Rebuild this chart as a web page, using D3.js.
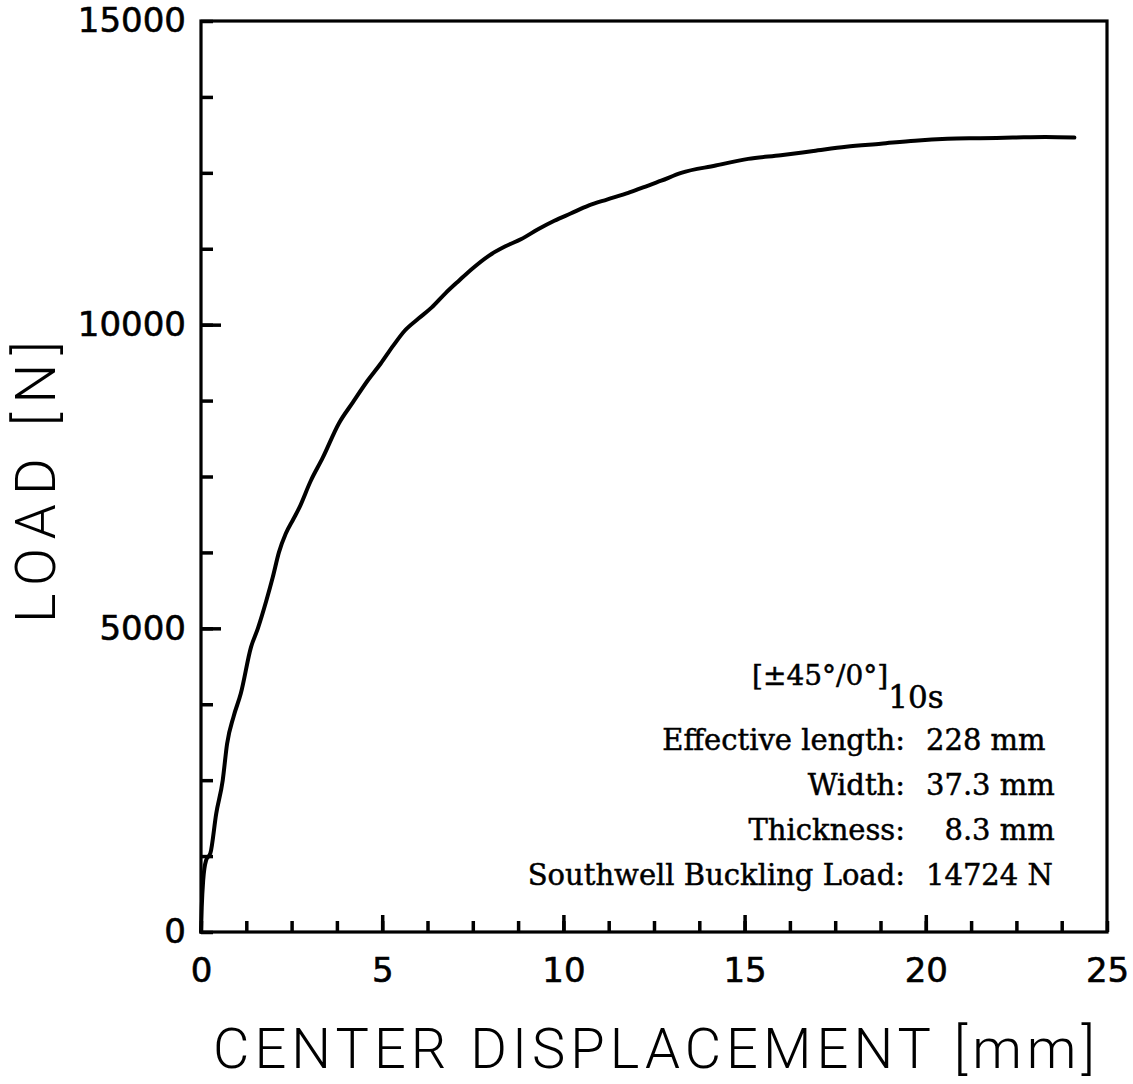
<!DOCTYPE html>
<html lang="en">
<head>
<meta charset="utf-8">
<title>Load vs center displacement</title>
<script src="https://cdn.jsdelivr.net/npm/d3@7"></script>
<style>
  body { margin: 0; background: #fff; }
  svg { display: block; }
</style>
</head>
<body>
<script>

var disp = [0, 0.02, 0.06, 0.14, 0.26, 0.42, 0.60, 0.72, 0.90, 1.10, 1.38, 1.57, 1.80, 1.98,
  2.15, 2.34, 2.55, 2.70, 3.03, 3.36, 3.80, 4.19, 4.60, 4.96, 5.30, 5.62, 6.00, 6.36, 6.75,
  7.11, 7.50, 7.93, 8.40, 8.84, 9.30, 9.75, 10.20, 10.69, 11.20, 11.79, 12.20, 12.70, 13.25,
  14.20, 15.10, 16.00, 16.90, 17.80, 18.76, 19.70, 20.60, 21.50, 22.40, 23.30, 24.10];
var load = [0, 400, 850, 1180, 1300, 1950, 2500, 3100, 3550, 3930, 4690, 5000, 5450, 5840,
  6250, 6560, 6800, 6970, 7430, 7810, 8370, 8720, 9080, 9360, 9650, 9900, 10100, 10280, 10520,
  10720, 10930, 11130, 11290, 11410, 11570, 11710, 11830, 11960, 12060, 12170, 12260, 12370, 12500,
  12620, 12730, 12790, 12860, 12930, 12980, 13030, 13060, 13070, 13080, 13090, 13080];

var xMajor = [0, 5, 10, 15, 20, 25];
var yMajor = [0, 5000, 10000, 15000];
var xMinorStep = 1.25,
    yMinorStep = 1250;

var specLabels = ["Effective length:", "Width:", "Thickness:", "Southwell Buckling Load:"];
var specValues = ["228 mm", "37.3 mm", "\u20078.3 mm", "14724 N"];
var layup = "[\u00b145\u00b0/0\u00b0]",
    layupSub = "10s";

var W = 1133, H = 1084;
var m = {left: 201, right: 1107, top: 21, bottom: 932};

var svg = d3.select("body").append("svg")
    .attr("width", W)
    .attr("height", H);

var x = d3.scaleLinear().domain([0, 25]).range([m.left, m.right]);
var y = d3.scaleLinear().domain([0, 15000]).range([m.bottom, m.top]);

var tickFont = "'DejaVu Sans', sans-serif";

// minor ticks
svg.append("g")
    .attr("transform", "translate(0," + m.bottom + ")")
    .call(d3.axisBottom(x).tickValues(d3.range(0, 25.001, xMinorStep)).tickSize(-11).tickFormat(""))
    .call(function(g) { g.select(".domain").remove(); });

svg.append("g")
    .attr("transform", "translate(" + m.left + ",0)")
    .call(d3.axisLeft(y).tickValues(d3.range(0, 15001, yMinorStep)).tickSize(-12).tickFormat(""))
    .call(function(g) { g.select(".domain").remove(); });

// major ticks + labels
var xAxis = svg.append("g")
    .attr("transform", "translate(0," + m.bottom + ")")
    .call(d3.axisBottom(x).tickValues(xMajor).tickSize(-17).tickPadding(26).tickFormat(d3.format("d")));

var yAxis = svg.append("g")
    .attr("transform", "translate(" + m.left + ",0)")
    .call(d3.axisLeft(y).tickValues(yMajor).tickSize(-20).tickPadding(15).tickFormat(d3.format("d")));

svg.selectAll(".tick line")
    .attr("stroke", "#000")
    .attr("stroke-width", 3.5);

svg.selectAll(".tick text")
    .attr("fill", "#000")
    .attr("stroke", "#000")
    .attr("stroke-width", 0.6)
    .style("font-family", tickFont)
    .style("font-size", "34px");

xAxis.select(".domain").remove();
yAxis.select(".domain").remove();
// the corners carry no tick marks
yAxis.selectAll(".tick line").filter(function(d) { return d === 0 || d === 15000; }).remove();
xAxis.selectAll(".tick line").filter(function(d) { return d === 0 || d === 25; }).remove();

// frame
svg.append("rect")
    .attr("x", m.left)
    .attr("y", m.top)
    .attr("width", m.right - m.left)
    .attr("height", m.bottom - m.top)
    .attr("fill", "none")
    .attr("stroke", "#000")
    .attr("stroke-width", 3.2);

// curve
var pts = disp.map(function(d, i) { return [d, load[i]]; });
var line = d3.line()
    .curve(d3.curveMonotoneX)
    .x(function(d) { return x(d[0]); })
    .y(function(d) { return y(d[1]); });

svg.append("path")
    .datum(pts)
    .attr("d", line)
    .attr("fill", "none")
    .attr("stroke", "#000")
    .attr("stroke-width", 4)
    .attr("stroke-linejoin", "round")
    .attr("stroke-linecap", "round");

// axis titles
var titleFont = "Roboto, 'DejaVu Sans', sans-serif";

svg.append("text")
    .attr("x", 213)
    .attr("y", 1068)
    .attr("textLength", 882)
    .attr("lengthAdjust", "spacing")
    .style("font-family", titleFont)
    .style("font-weight", 300)
    .style("font-size", "56px")
    .text("CENTER DISPLACEMENT [mm]");

svg.append("text")
    .attr("transform", "translate(55,482) rotate(-90)")
    .attr("text-anchor", "middle")
    .attr("textLength", 282)
    .attr("lengthAdjust", "spacing")
    .style("font-family", titleFont)
    .style("font-weight", 300)
    .style("font-size", "56px")
    .text("LOAD [N]");

// specimen notes
var noteFont = "'DejaVu Serif', serif";
var colonX = 905, valueX = 926;
var baselines = [750, 795, 840, 885];

var notes = svg.append("g")
    .style("font-family", noteFont)
    .style("font-size", "29px")
    .attr("fill", "#000")
    .attr("stroke", "#000")
    .attr("stroke-width", 0.5);

var t = notes.append("text")
    .attr("x", 752)
    .attr("y", 685);
t.append("tspan").style("font-size", "28px").text(layup);
t.append("tspan").attr("dy", 23).style("font-size", "31px").text(layupSub);

notes.selectAll("text.lab")
    .data(specLabels)
  .enter().append("text")
    .attr("class", "lab")
    .attr("x", colonX)
    .attr("y", function(d, i) { return baselines[i]; })
    .attr("text-anchor", "end")
    .text(function(d) { return d; });

notes.selectAll("text.val")
    .data(specValues)
  .enter().append("text")
    .attr("class", "val")
    .attr("x", valueX)
    .attr("y", function(d, i) { return baselines[i]; })
    .text(function(d) { return d; });

</script>
</body>
</html>
